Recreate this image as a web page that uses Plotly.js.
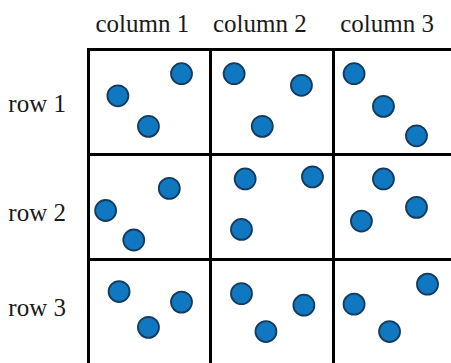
<!DOCTYPE html>
<html>
<head>
<meta charset="utf-8">
<script src="https://cdn.plot.ly/plotly-3.0.1.min.js"></script>
<style>
  html, body { margin: 0; padding: 0; background: #fff; }
  #grid { width: 451px; height: 363px; }
</style>
</head>
<body>
<div id="grid"></div>
<script>
    // cell units: one column / one row = 1, origin at top-left corner of the grid
    var colLabels = ['column 1', 'column 2', 'column 3'];
    var colPos = [0.44, 1.40, 2.44];
    var rowLabels = ['row 1', 'row 2', 'row 3'];
    var rowPos = [0.51, 1.55, 2.45];

    // dots, read row by row
    var row1X = [0.24, 0.49, 0.76, 1.19, 1.74, 1.42, 2.17, 2.41, 2.68];
    var row1Y = [0.44, 0.73, 0.23, 0.23, 0.34, 0.73, 0.23, 0.54, 0.82];
    var row2X = [0.14, 0.37, 0.66, 1.28, 1.83, 1.25, 2.41, 2.68, 2.23];
    var row2Y = [1.53, 1.81, 1.32, 1.23, 1.21, 1.71, 1.23, 1.50, 1.63];
    var row3X = [0.25, 0.76, 0.49, 1.25, 1.76, 1.45, 2.17, 2.77, 2.46];
    var row3Y = [2.30, 2.40, 2.64, 2.32, 2.43, 2.68, 2.42, 2.23, 2.68];

    var dotX = row1X.concat(row2X, row3X);
    var dotY = row1Y.concat(row2Y, row3Y);

    var dots = {
        x: dotX,
        y: dotY,
        type: 'scatter',
        mode: 'markers',
        hoverinfo: 'skip',
        cliponaxis: false,
        marker: {
            size: 21,
            color: '#0f78c0',
            line: { color: '#143a5c', width: 1.8 }
        }
    };

    var serif = 'Liberation Serif';
    var labelFont = { family: serif, size: 25, color: '#1a1a1a' };

    var layout = {
        width: 451,
        height: 363,
        margin: { l: 90, r: 0, t: 51, b: 0 },
        font: { family: serif, size: 25, color: '#1a1a1a' },
        paper_bgcolor: '#fff',
        plot_bgcolor: '#fff',
        showlegend: false,
        xaxis: {
            side: 'top',
            range: [0.0123, 2.962],
            tickmode: 'array',
            tickvals: colPos,
            ticktext: colLabels,
            tickfont: labelFont,
            ticks: '',
            ticklabelstandoff: 6,
            showgrid: false,
            zeroline: false,
            showline: true,
            linecolor: '#000',
            linewidth: 3,
            minor: { tickmode: 'array', tickvals: [1, 2], showgrid: true, gridcolor: '#000', gridwidth: 3, ticks: '' },
            fixedrange: true
        },
        yaxis: {
            range: [2.979, 0.0143],
            tickmode: 'array',
            tickvals: rowPos,
            ticktext: rowLabels,
            tickfont: labelFont,
            ticks: '',
            ticklabelstandoff: 16,
            showgrid: false,
            zeroline: false,
            showline: true,
            linecolor: '#000',
            linewidth: 3,
            minor: { tickmode: 'array', tickvals: [1, 2], showgrid: true, gridcolor: '#000', gridwidth: 3, ticks: '' },
            fixedrange: true
        }
    };

    Plotly.newPlot('grid', [dots], layout, { displayModeBar: false, staticPlot: true });
</script>
</body>
</html>
